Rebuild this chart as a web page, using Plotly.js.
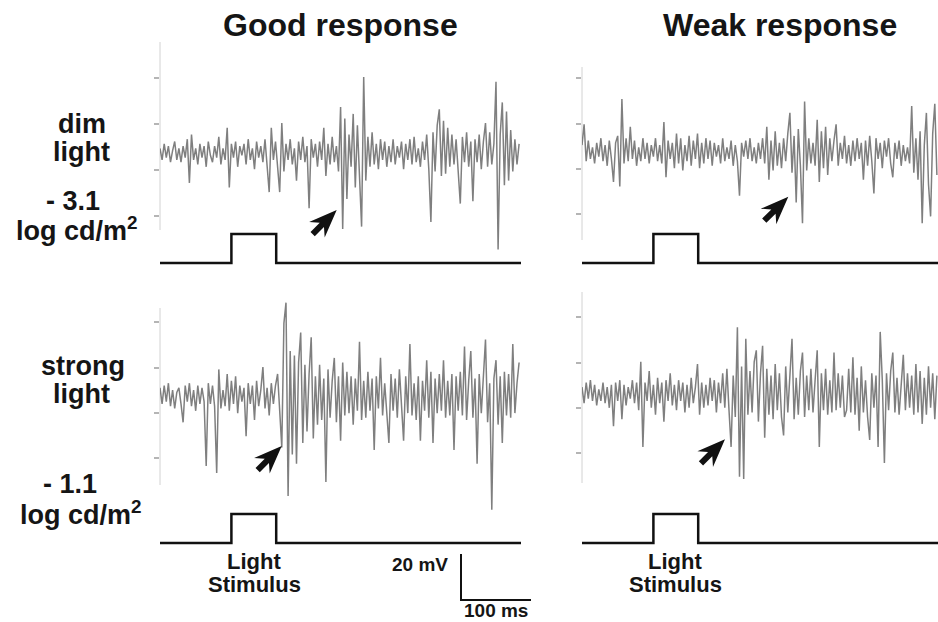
<!DOCTYPE html>
<html>
<head>
<meta charset="utf-8">
<script src="https://cdn.plot.ly/plotly-3.0.1.min.js"></script>
<style>html,body{margin:0;padding:0;background:#fff;}#chart{width:938px;height:622px;}</style>
</head>
<body>
<div id="chart"></div>
<script>
// ---------------- DATA (mV, deviation from each trace's baseline) ----------------
const sampleMs = 3;

const goodDim = [
  2,-3,4,-2,3,-4,1,5,-3,2,
  -4,3,-2,6,-13,8,-3,2,-5,4,
  -2,3,-6,5,-1,-4,3,-2,7,-5,
  2,-3,11,-15,4,-2,5,-6,3,-1,
  4,-5,6,-3,2,-7,5,-2,3,-4,
  6,-4,-17,11,-3,5,-6,-17,13,-8,
  4,-3,6,-5,2,-12,5,-3,7,-4,
  3,-24,6,-2,4,-6,5,-3,11,-10,
  4,-5,7,-4,3,-8,20,-33,15,-20,
  8,-6,17,-15,12,-9,-32,33,-12,7,
  -6,9,-5,4,-7,6,-3,5,-6,3,
  -4,6,-5,3,-2,5,-7,4,-3,6,
  -5,7,-4,2,-6,5,-3,8,-7,-30,
  9,-8,12,19,-10,14,-9,11,-6,8,
  -5,6,-8,-22,7,-4,9,-6,5,-21,
  6,-4,8,-7,5,13,-6,9,-5,4,
  31,-42,8,22,-14,18,-12,10,-8,6,
  -5,4
];
const weakDim = [
  3,12,-4,5,-3,2,-5,4,-2,6,
  -4,3,-6,5,-3,-13,4,7,-15,23,
  -5,6,-4,11,-3,5,-6,2,-4,6,
  -3,4,-5,3,-2,6,-4,3,-5,13,
  -11,5,-3,4,-7,8,-5,6,-8,3,
  -4,7,-6,5,-3,8,-7,4,-5,6,
  -3,5,-6,4,-2,3,-5,6,-4,2,
  -3,5,-6,3,-4,-19,4,-2,5,-3,
  6,-4,2,-5,4,-3,6,-5,11,-12,
  5,-8,9,-6,4,-7,6,-4,8,17,
  -9,7,-22,10,-6,-31,22,-8,6,-5,
  4,-6,14,-13,9,-7,11,-10,6,-4,
  5,12,-6,4,-3,7,-5,3,-6,5,
  -4,6,-3,4,-12,5,-6,7,-4,-18,
  6,-3,4,-7,5,-2,6,-5,-11,4,
  -3,5,-6,3,-4,2,-5,20,-9,6,
  -12,9,-31,3,17,-14,-28,8,21,-10
];
const goodStrong = [
  4,-3,5,-2,6,-4,3,-5,2,4,
  -3,-11,5,-2,6,-4,3,-6,5,-3,
  4,-2,-30,6,-3,5,-4,-33,12,-5,
  3,-4,10,-6,7,-3,9,-7,5,-2,
  4,-17,6,-3,5,-10,7,-4,3,13,
  -5,4,-8,6,-3,5,10,-6,-22,32,
  41,-43,20,-25,18,-29,15,28,-20,14,
  -15,10,26,-18,9,-12,14,-10,8,-37,
  12,-9,7,17,-11,9,-19,15,-8,11,
  -7,9,-12,8,-6,24,-10,7,-9,11,
  -6,8,-23,9,-5,17,-8,6,-7,-20,
  10,-6,8,-9,12,-5,-19,9,-7,23,
  -8,6,-10,9,-19,7,-6,16,-9,11,
  -20,8,-7,10,-6,16,-9,7,-8,10,
  -23,9,-6,11,-8,22,-10,7,20,-9,
  8,-29,10,-7,9,25,-11,6,-49,8,
  16,-12,9,-20,11,-8,10,-9,23,-7,
  6,15
];
const weakStrong = [
  3,-4,5,-2,6,-3,4,-5,2,-3,
  5,-4,3,-6,4,-14,5,-3,6,-11,
  4,-5,3,-2,6,-4,5,-7,14,-23,
  5,-3,10,-6,4,-9,7,-4,5,-12,
  6,-3,9,-5,4,-7,6,-3,5,-8,
  4,-6,7,-4,3,13,-9,5,-6,4,
  -5,7,-3,6,-8,5,-4,9,-6,11,
  -7,-23,8,-10,29,-36,12,-37,24,-9,
  10,-8,14,19,-12,9,21,-19,11,-9,
  8,-11,13,-7,9,-10,-18,12,-8,10,
  24,-11,7,-9,10,18,-10,8,-7,11,
  -8,6,19,-23,9,-7,11,-9,6,-8,
  18,-7,9,-6,8,-10,-7,11,-8,16,
  -9,7,-16,12,-8,6,-10,-20,9,-6,
  8,-23,27,6,-30,9,-7,10,18,-8,
  7,-9,6,17,-7,9,-6,8,-9,13,
  -8,10,-13,7,-9,12,-6,9,-11,8
];

// light stimulus (ms, on/off)
const stimTime  = [0, 102, 102, 166, 166, 520];
const stimLevel = [0, 0, 1, 1, 0, 0];

// scale bar values
const scaleBarMV = 20;
const scaleBarMS = 100;

// text
const columnTitles = ['Good response', 'Weak response'];
const rowLabels = [['dim', 'light', '- 3.1', 'log cd/m<sup>2</sup>'], ['strong', 'light', '- 1.1', 'log cd/m<sup>2</sup>']];
const stimLabel = ['Light', 'Stimulus'];

// ---------------- LAYOUT ----------------
const W = 938, H = 622;
const PX_PER_MS = 0.7, PX_PER_MV = 2.3, PX_PER_STIM = 29;
const fx = p => p / W;
const fy = p => 1 - p / H;
const FONT = 'Liberation Sans, Arial, Helvetica, sans-serif';

const panels = [
  {vals: goodDim,    x0:160, x1:521, base:153, ticks:[78,124,170,216], axTop:42,  axBot:230, stimBase:263, arrow:[336.7,210]},
  {vals: weakDim,    x0:582, x1:938, base:152, ticks:[78,124,169,214], axTop:67,  axBot:240, stimBase:263, arrow:[788.3,196.7]},
  {vals: goodStrong, x0:160, x1:521, base:397, ticks:[322,368,413,458], axTop:308, axBot:485, stimBase:543, arrow:[281.7,446]},
  {vals: weakStrong, x0:582, x1:938, base:394, ticks:[317,363,408,453], axTop:292, axBot:483, stimBase:543, arrow:[725,439.3]}
];

const data = [];
const layout = {
  width: W, height: H,
  margin: {l:0, r:0, t:0, b:0},
  paper_bgcolor: '#fff', plot_bgcolor: 'rgba(0,0,0,0)',
  showlegend: false,
  shapes: [], annotations: []
};

const yMin = -52, yMax = 50;
panels.forEach((p, i) => {
  const xn = i === 0 ? 'x' : 'x' + (i + 1);
  const yn = i === 0 ? 'y' : 'y' + (i + 1);
  const ysn = 'y' + (i + 5);
  const xKey = i === 0 ? 'xaxis' : 'xaxis' + (i + 1);
  const yKey = i === 0 ? 'yaxis' : 'yaxis' + (i + 1);
  const ysKey = 'yaxis' + (i + 5);
  const xmax = (p.x1 - p.x0) / PX_PER_MS;
  const time = p.vals.map((_, k) => k * sampleMs);

  layout[xKey] = {domain:[fx(p.x0), fx(p.x1)], range:[0, xmax], visible:false, anchor: yn, fixedrange:true};
  layout[yKey] = {
    domain:[fy(p.base - yMin * PX_PER_MV), fy(p.base - yMax * PX_PER_MV)],
    range:[yMin, yMax], anchor: xn,
    showgrid:false, zeroline:false, showline:false, showticklabels:false,
    ticks:'outside', ticklen:5, tickwidth:1.5, tickcolor:'#b5b5b5',
    tickvals: p.ticks.map(t => (p.base - t) / PX_PER_MV), fixedrange:true
  };
  layout[ysKey] = {
    domain:[fy(p.stimBase + 5), fy(p.stimBase - 35)],
    range:[-5 / PX_PER_STIM, 35 / PX_PER_STIM], anchor: xn, visible:false, fixedrange:true
  };

  data.push({type:'scatter', mode:'lines', x: time, y: p.vals, xaxis: xn, yaxis: yn,
    line:{color:'rgba(95,95,95,0.8)', width:1.5}, hoverinfo:'skip'});
  data.push({type:'scatter', mode:'lines', x: stimTime, y: stimLevel, xaxis: xn, yaxis: ysn,
    line:{color:'#111', width:2.5, shape:'linear'}, hoverinfo:'skip'});

  // faint vertical axis line
  layout.shapes.push({type:'line', xref:'paper', yref:'paper', layer:'below',
    x0: fx(p.x0), x1: fx(p.x0), y0: fy(p.axTop), y1: fy(p.axBot),
    line:{color:'#d2d2d2', width:1}});

  // arrow pointing to response onset
  const d = [0.7071, -0.7071], n = [0.7071, 0.7071];
  const pts = [[0,0],[-28,-11],[-21,-3],[-34,-3],[-34,3],[-21,3],[-28,11]];
  const path = pts.map((q, k) => {
    const sx = p.arrow[0] + q[0] * d[0] + q[1] * n[0];
    const sy = p.arrow[1] + q[0] * d[1] + q[1] * n[1];
    return (k === 0 ? 'M' : 'L') + fx(sx).toFixed(5) + ',' + fy(sy).toFixed(5);
  }).join(' ') + ' Z';
  layout.shapes.push({type:'path', xref:'paper', yref:'paper', path: path,
    fillcolor:'#111', line:{width:0}});
});

// scale bar axes
layout.xaxis5 = {domain:[fx(440), fx(560)], range:[-30, -30 + 120 / PX_PER_MS], visible:false, anchor:'y9', fixedrange:true};
layout.yaxis9 = {domain:[fy(610), fy(545)], range:[-10 / PX_PER_MV, -10 / PX_PER_MV + 65 / PX_PER_MV], visible:false, anchor:'x5', fixedrange:true};
data.push({type:'scatter', mode:'lines', x:[0, 0, scaleBarMS], y:[scaleBarMV, 0, 0], xaxis:'x5', yaxis:'y9',
  line:{color:'#111', width:2}, hoverinfo:'skip'});

// text annotations
function txt(text, x, y, size, anchor) {
  layout.annotations.push({text: '<b>' + text + '</b>', xref:'paper', yref:'paper',
    x: fx(x), y: fy(y), xanchor: anchor || 'center', yanchor:'middle', showarrow:false,
    font:{family: FONT, size: size, color:'#151515'}});
}
txt(columnTitles[0], 340.5, 25.5, 32);
txt(columnTitles[1], 780, 25.5, 32);

const rowY = [[124, 152.5, 200.5, 229], [365.5, 394, 484, 512.5]];
const rowX = [[81.7, 81, 72.5, 77], [82.5, 81, 70, 81]];
rowLabels.forEach((lab, r) => lab.forEach((s, k) => txt(s, rowX[r][k], rowY[r][k], 27)));

[254, 675].forEach(cx => { txt(stimLabel[0], cx, 561.6, 22); txt(stimLabel[1], cx, 584, 22); });

txt(scaleBarMV + ' mV', 449.5, 564, 19, 'right');
txt(scaleBarMS + ' ms', 496, 610.4, 19);

Plotly.newPlot('chart', data, layout, {staticPlot:true, displayModeBar:false});
</script>
</body>
</html>
